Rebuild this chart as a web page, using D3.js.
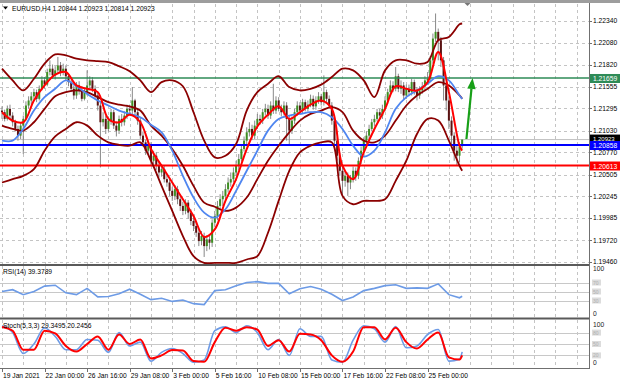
<!DOCTYPE html>
<html><head><meta charset="utf-8">
<script src="https://cdn.jsdelivr.net/npm/d3@7"></script>
<style>html,body{margin:0;padding:0;background:#fff;overflow:hidden}</style>
</head><body><svg id="c" width="620" height="382"></svg>
<script>
// ---------------- DATA ----------------
const symbolTitle = "EURUSD,H4  1.20844 1.20923 1.20814 1.20923";
const opens = [1.2127,1.2125,1.2117,1.2129,1.2121,1.2113,1.2105,1.2097,1.2109,1.2117,
1.2133,1.2139,1.2144,1.2149,1.2141,1.2153,1.2163,1.2158,1.2173,1.2177,
1.2169,1.2175,1.2181,1.2173,1.2177,1.2168,1.2161,1.2153,1.2145,1.2157,
1.2151,1.2141,1.2149,1.2157,1.2163,1.2153,1.2145,1.2133,1.2113,1.2117,
1.2105,1.2115,1.2125,1.2109,1.2103,1.2117,1.2113,1.2121,1.2129,1.2127,
1.2139,1.2125,1.2115,1.2097,1.2089,1.2079,1.2085,1.2067,1.2073,1.2061,
1.2053,1.2057,1.2045,1.2041,1.2031,1.2025,1.2033,1.2021,1.2013,1.2007,
1.2017,1.2005,1.1995,1.1989,1.1981,1.1971,1.1977,1.1965,1.1973,1.1969,
1.1993,1.2001,1.2013,1.2021,1.2025,1.2033,1.2041,1.2045,1.2053,1.2061,
1.2069,1.2081,1.2091,1.2101,1.2105,1.2097,1.2109,1.2117,1.2115,1.2125,
1.2129,1.2121,1.2133,1.2127,1.2139,1.2129,1.2125,1.2133,1.2117,1.2103,
1.2115,1.2125,1.2133,1.2127,1.2137,1.2129,1.2134,1.2141,1.2132,1.2139,
1.2144,1.2137,1.2149,1.2141,1.2133,1.2115,1.2091,1.2073,1.2055,1.2043,
1.2049,1.2041,1.2045,1.2055,1.2049,1.2067,1.2079,1.2091,1.2097,1.2105,
1.2113,1.2117,1.2125,1.2121,1.2129,1.2139,1.2149,1.2157,1.2153,1.2168,
1.2153,1.2157,1.2145,1.2153,1.2149,1.2161,1.2151,1.2145,1.2151,1.2156,
1.2163,1.2165,1.2187,1.2213,1.2221,1.2211,1.2187,1.2157,1.2139,1.2115,
1.2097,1.2079,1.2073,1.20844];
const highs = [1.2132,1.2128,1.2133,1.2134,1.2125,1.2116,1.2109,1.2113,1.2121,1.2138,
1.2144,1.2149,1.2153,1.2152,1.2157,1.2168,1.2167,1.2177,1.2187,1.2182,
1.2180,1.2191,1.2185,1.2183,1.2181,1.2171,1.2164,1.2157,1.2161,1.2162,
1.2156,1.2153,1.2175,1.2168,1.2167,1.2157,1.2149,1.2137,1.2125,1.2121,
1.2120,1.2129,1.2128,1.2114,1.2121,1.2123,1.2126,1.2134,1.2134,1.2155,
1.2141,1.2128,1.2119,1.2102,1.2092,1.2091,1.2089,1.2079,1.2077,1.2066,
1.2063,1.2061,1.2050,1.2045,1.2036,1.2038,1.2037,1.2026,1.2018,1.2021,
1.2020,1.2009,1.1999,1.1994,1.1985,1.1983,1.1981,1.1978,1.1979,1.1997,
1.2007,1.2019,1.2027,1.2031,1.2039,1.2047,1.2053,1.2059,1.2067,1.2075,
1.2086,1.2096,1.2107,1.2113,1.2110,1.2115,1.2123,1.2122,1.2129,1.2135,
1.2134,1.2138,1.2159,1.2144,1.2143,1.2134,1.2138,1.2137,1.2121,1.2120,
1.2129,1.2138,1.2137,1.2141,1.2140,1.2139,1.2146,1.2145,1.2144,1.2149,
1.2147,1.2169,1.2152,1.2145,1.2137,1.2119,1.2095,1.2077,1.2060,1.2054,
1.2053,1.2050,1.2060,1.2059,1.2071,1.2084,1.2095,1.2102,1.2110,1.2117,
1.2122,1.2129,1.2129,1.2134,1.2144,1.2153,1.2163,1.2162,1.2179,1.2171,
1.2163,1.2161,1.2158,1.2158,1.2165,1.2164,1.2155,1.2156,1.2161,1.2168,
1.2173,1.2192,1.2219,1.2243,1.2225,1.2215,1.2191,1.2161,1.2144,1.2120,
1.2101,1.2085,1.2089,1.20923];
const lows = [1.2117,1.2114,1.2115,1.2117,1.2108,1.2102,1.2091,1.2093,1.2075,1.2115,
1.2129,1.2134,1.2140,1.2137,1.2139,1.2151,1.2153,1.2156,1.2169,1.2165,
1.2164,1.2171,1.2168,1.2169,1.2163,1.2156,1.2149,1.2140,1.2141,1.2146,
1.2138,1.2139,1.2145,1.2153,1.2149,1.2141,1.2127,1.2059,1.2108,1.2099,
1.2102,1.2110,1.2105,1.2096,1.2099,1.2108,1.2109,1.2117,1.2122,1.2123,
1.2121,1.2110,1.2093,1.2084,1.2074,1.2075,1.2062,1.2063,1.2056,1.2047,
1.2048,1.2041,1.2036,1.2025,1.2019,1.2020,1.2015,1.2007,1.2002,1.2003,
1.1998,1.1990,1.1983,1.1976,1.1965,1.1966,1.1952,1.1959,1.1961,1.1964,
1.1988,1.1996,1.2008,1.2013,1.2020,1.2029,1.2036,1.2041,1.2049,1.2056,
1.2066,1.2078,1.2087,1.2096,1.2092,1.2093,1.2105,1.2110,1.2111,1.2121,
1.2117,1.2117,1.2123,1.2123,1.2126,1.2120,1.2121,1.2091,1.2085,1.2099,
1.2111,1.2121,1.2123,1.2123,1.2126,1.2126,1.2131,1.2128,1.2128,1.2135,
1.2133,1.2133,1.2137,1.2129,1.2110,1.2086,1.2067,1.2049,1.2023,1.2036,
1.2025,1.2033,1.2041,1.2043,1.2045,1.2063,1.2075,1.2086,1.2093,1.2102,
1.2108,1.2114,1.2116,1.2117,1.2126,1.2135,1.2145,1.2149,1.2150,1.2149,
1.2147,1.2140,1.2141,1.2144,1.2145,1.2146,1.2139,1.2141,1.2147,1.2151,
1.2158,1.2161,1.2183,1.2209,1.2187,1.2179,1.2139,1.2127,1.2105,1.2085,
1.2067,1.2061,1.2065,1.20814];
const closes = [1.2125,1.2117,1.2129,1.2121,1.2113,1.2105,1.2097,1.2109,1.2117,1.2133,
1.2139,1.2144,1.2149,1.2141,1.2153,1.2163,1.2158,1.2173,1.2177,1.2169,
1.2175,1.2181,1.2173,1.2177,1.2168,1.2161,1.2153,1.2145,1.2157,1.2151,
1.2141,1.2149,1.2157,1.2163,1.2153,1.2145,1.2133,1.2113,1.2117,1.2105,
1.2115,1.2125,1.2109,1.2103,1.2117,1.2113,1.2121,1.2129,1.2127,1.2139,
1.2125,1.2115,1.2097,1.2089,1.2079,1.2085,1.2067,1.2073,1.2061,1.2053,
1.2057,1.2045,1.2041,1.2031,1.2025,1.2033,1.2021,1.2013,1.2007,1.2017,
1.2005,1.1995,1.1989,1.1981,1.1971,1.1977,1.1965,1.1973,1.1969,1.1993,
1.2001,1.2013,1.2021,1.2025,1.2033,1.2041,1.2045,1.2053,1.2061,1.2069,
1.2081,1.2091,1.2101,1.2105,1.2097,1.2109,1.2117,1.2115,1.2125,1.2129,
1.2121,1.2133,1.2127,1.2139,1.2129,1.2125,1.2133,1.2117,1.2103,1.2115,
1.2125,1.2133,1.2127,1.2137,1.2129,1.2134,1.2141,1.2132,1.2139,1.2144,
1.2137,1.2149,1.2141,1.2133,1.2115,1.2091,1.2073,1.2055,1.2043,1.2049,
1.2041,1.2045,1.2055,1.2049,1.2067,1.2079,1.2091,1.2097,1.2105,1.2113,
1.2117,1.2125,1.2121,1.2129,1.2139,1.2149,1.2157,1.2153,1.2168,1.2153,
1.2157,1.2145,1.2153,1.2149,1.2161,1.2151,1.2145,1.2151,1.2156,1.2163,
1.2165,1.2187,1.2213,1.2221,1.2211,1.2187,1.2157,1.2139,1.2115,1.2097,
1.2079,1.2073,1.2084,1.20923];

// indicator samples (bar index of each sample)
const sampleBars = [0,4,8,12,16,20,24,28,32,36,40,44,48,52,56,60,64,68,72,76,80,84,88,92,96,100,104,108,112,116,120,124,128,132,136,140,144,148,152,156,160,164,168,172,173];
const bbUpper = [1.2177,1.2163,1.2151,1.2165,1.2183,1.2194,1.2193,1.2189,1.2187,1.2186,1.2185,1.2180,1.2174,1.2163,1.2149,1.2161,1.2163,1.2156,1.2125,1.2091,1.2071,1.2073,1.2087,1.2127,1.2149,1.2159,1.2168,1.2155,1.2151,1.2153,1.2158,1.2167,1.2177,1.2175,1.2163,1.2143,1.2175,1.2187,1.2187,1.2183,1.2185,1.2211,1.2215,1.2230,1.2231];
const bbMiddle = [1.2109,1.2105,1.2103,1.2113,1.2129,1.2144,1.2149,1.2151,1.2149,1.2143,1.2137,1.2134,1.2132,1.2127,1.2109,1.2097,1.2081,1.2061,1.2037,1.2017,1.2012,1.2007,1.2011,1.2023,1.2045,1.2067,1.2085,1.2101,1.2115,1.2123,1.2127,1.2131,1.2125,1.2103,1.2091,1.2089,1.2097,1.2115,1.2133,1.2145,1.2153,1.2161,1.2157,1.2145,1.2141];
const bbLower = [1.2041,1.2045,1.2049,1.2057,1.2079,1.2096,1.2105,1.2113,1.2109,1.2097,1.2089,1.2086,1.2085,1.2089,1.2067,1.2037,1.2007,1.1977,1.1953,1.1945,1.1945,1.1945,1.1945,1.1949,1.1953,1.1981,1.2019,1.2055,1.2077,1.2085,1.2089,1.2089,1.2025,1.2015,1.2019,1.2019,1.2021,1.2043,1.2067,1.2099,1.2117,1.2115,1.2091,1.2061,1.2055];
const maFast = [1.2125,1.2115,1.2113,1.2139,1.2157,1.2170,1.2173,1.2157,1.2153,1.2149,1.2117,1.2113,1.2122,1.2113,1.2081,1.2061,1.2041,1.2021,1.2001,1.1976,1.1985,1.2019,1.2045,1.2081,1.2108,1.2122,1.2132,1.2117,1.2125,1.2134,1.2139,1.2129,1.2061,1.2045,1.2077,1.2105,1.2129,1.2156,1.2153,1.2151,1.2161,1.2197,1.2149,1.2085,1.2079];
const maSlow = [1.2091,1.2091,1.2105,1.2127,1.2143,1.2153,1.2163,1.2156,1.2147,1.2139,1.2133,1.2127,1.2123,1.2119,1.2110,1.2101,1.2079,1.2049,1.2023,1.2005,1.1999,1.2009,1.2031,1.2055,1.2079,1.2103,1.2117,1.2121,1.2123,1.2125,1.2125,1.2119,1.2105,1.2085,1.2072,1.2079,1.2101,1.2129,1.2143,1.2151,1.2159,1.2168,1.2163,1.2145,1.2141];
const rsi = [50,54,43,50,62,64,47,43,57,38,39,45,55,44,32,35,28,31,23,21,52,54,63,70,72,68,68,45,56,61,55,44,30,38,52,57,63,65,57,58,57,67,43,36,39.38];
const stochK = [98,80,25,50,92,70,35,35,62,60,28,80,45,55,5,28,38,25,2,8,85,95,80,98,80,35,62,20,90,70,70,8,2,60,98,90,55,96,40,45,75,88,5,10,29.35];
const stochD = [95,85,35,35,85,78,45,30,50,70,35,75,50,62,12,20,34,33,5,3,55,93,85,94,88,45,60,30,77,75,60,20,3,30,94,94,62,93,55,38,62,80,15,9,20.25];

const priceTicks = [1.22340,1.22080,1.21820,1.21555,1.21295,1.21030,1.20770,1.20505,1.20245,1.19985,1.19720,1.19460];
const timeBars = [0,16,32,48,64,80,96,112,128,144,160];
const timeTexts = ["19 Jan 2021","22 Jan 00:00","26 Jan 16:00","29 Jan 08:00","3 Feb 00:00","5 Feb 16:00","10 Feb 08:00","15 Feb 00:00","17 Feb 16:00","22 Feb 08:00","25 Feb 00:00"];
const levelPrices = [1.21659, 1.20858, 1.20613];
const bidPrice = 1.20923;
const rsiLabel = "RSI(14) 39.3789";
const rsiLevels = [70,50,30];
const stochLabel = "Stoch(5,3,3) 29.3495 20.2456";
const stochLevels = [80,50,20];
const arrowBars = [174.6, 176.9];
const arrowPrices = [1.2093, 1.2166];

// ---------------- DRAW ----------------
const svg = d3.select('#c');
const FONT = "'Liberation Sans', Arial, sans-serif";
const PR = 589;
const x = d3.scaleLinear().domain([0,1]).range([2, 4.66]);
const y = d3.scaleLinear().domain([1.19460,1.22340]).range([262,21]);
const yR = d3.scaleLinear().domain([0,100]).range([314,269]);
const yS = d3.scaleLinear().domain([0,100]).range([363,325]);
const panels = {main:[4,264], rsi:[266,317], st:[320,368]};

svg.append('rect').attr('width',620).attr('height',382).attr('fill','#fff');
const defs = svg.append('defs');
Object.entries(panels).forEach(([k,[t,b]])=>{
  defs.append('clipPath').attr('id','clip-'+k).append('rect')
    .attr('x',0).attr('y',t).attr('width',PR).attr('height',b-t);
});

const gridC = '#c4c4c4';
const gridBars = d3.range(0, 221, 8);
Object.entries(panels).forEach(([k,[t,b]])=>{
  svg.append('g').selectAll('line').data(gridBars).join('line')
    .attr('x1',d=>Math.round(x(d))+0.5).attr('x2',d=>Math.round(x(d))+0.5)
    .attr('y1',t).attr('y2',b)
    .attr('stroke',gridC).attr('stroke-dasharray','3,3').attr('shape-rendering','crispEdges');
});
svg.append('g').selectAll('line').data(priceTicks).join('line')
  .attr('x1',0).attr('x2',PR)
  .attr('y1',d=>Math.round(y(d))+0.5).attr('y2',d=>Math.round(y(d))+0.5)
  .attr('stroke',gridC).attr('stroke-dasharray','3,3').attr('shape-rendering','crispEdges');
svg.append('g').selectAll('line').data(rsiLevels).join('line')
  .attr('x1',0).attr('x2',PR).attr('y1',d=>Math.round(yR(d))+0.5).attr('y2',d=>Math.round(yR(d))+0.5)
  .attr('stroke','#c8c8c8').attr('shape-rendering','crispEdges');
svg.append('g').selectAll('line').data(stochLevels).join('line')
  .attr('x1',0).attr('x2',PR).attr('y1',d=>Math.round(yS(d))+0.5).attr('y2',d=>Math.round(yS(d))+0.5)
  .attr('stroke','#c8c8c8').attr('shape-rendering','crispEdges');

// ---- main panel ----
const gm = svg.append('g').attr('clip-path','url(#clip-main)');
const idx = d3.range(closes.length);
gm.append('line').attr('x1',0).attr('x2',PR).attr('y1',y(bidPrice)).attr('y2',y(bidPrice))
  .attr('stroke','#c0c0c0').attr('stroke-width',1);
gm.append('g').selectAll('line').data(idx).join('line')
  .attr('x1',i=>x(i)).attr('x2',i=>x(i))
  .attr('y1',i=>y(highs[i])).attr('y2',i=>y(lows[i]))
  .attr('stroke','#7a7a7a').attr('stroke-width',0.9);
gm.append('g').selectAll('rect').data(idx).join('rect')
  .attr('x',i=>x(i)-1).attr('width',2)
  .attr('y',i=>Math.min(y(opens[i]),y(closes[i])))
  .attr('height',i=>Math.max(0.8,Math.abs(y(opens[i])-y(closes[i]))))
  .attr('fill',i=>closes[i]>=opens[i]?'#3d8f22':'#5a1212');

const levelColors = ['#2e8b57','#0000ff','#ff0000'];
const levelWidths = [1.6,2,1.8];
gm.append('g').selectAll('line').data(levelPrices).join('line')
  .attr('x1',0).attr('x2',PR).attr('y1',d=>y(d)).attr('y2',d=>y(d))
  .attr('stroke',(d,k)=>levelColors[k]).attr('stroke-width',(d,k)=>levelWidths[k]);

const lineMain = d3.line().x((d,k)=>x(sampleBars[k])).y(d=>y(d)).curve(d3.curveCatmullRom.alpha(0.5));
[[bbUpper,'#8b0000',1.8],[bbMiddle,'#8b0000',1.8],[bbLower,'#8b0000',1.8],
 [maSlow,'#4f86f0',1.8],[maFast,'#ff0000',2]].forEach(([arr,c,w])=>{
  gm.append('path').attr('d',lineMain(arr)).attr('fill','none').attr('stroke',c).attr('stroke-width',w);
});

// arrow
const ax1=x(arrowBars[0]), ay1=y(arrowPrices[0]), ax2=x(arrowBars[1]), ay2=y(arrowPrices[1]);
const ang=Math.atan2(ay2-ay1, ax2-ax1);
const hl=11, hw=4.2;
const bx=ax2-hl*Math.cos(ang), by=ay2-hl*Math.sin(ang);
gm.append('line').attr('x1',ax1).attr('y1',ay1).attr('x2',bx).attr('y2',by)
  .attr('stroke','#18a018').attr('stroke-width',2.2);
gm.append('path').attr('d',`M${ax2},${ay2}L${bx+hw*Math.sin(ang)},${by-hw*Math.cos(ang)}L${bx-hw*Math.sin(ang)},${by+hw*Math.cos(ang)}Z`)
  .attr('fill','#18a018');

// ---- RSI ----
const gr = svg.append('g').attr('clip-path','url(#clip-rsi)');
gr.append('path').attr('d',d3.line().x((d,k)=>x(sampleBars[k])).y(d=>yR(d)).curve(d3.curveLinear)(rsi))
  .attr('fill','none').attr('stroke','#6d9be6').attr('stroke-width',1.6);
// ---- Stoch ----
const gs = svg.append('g').attr('clip-path','url(#clip-st)');
const lineS = d3.line().x((d,k)=>x(sampleBars[k])).y(d=>yS(d)).curve(d3.curveMonotoneX);
gs.append('path').attr('d',lineS(stochK)).attr('fill','none').attr('stroke','#6d9be6').attr('stroke-width',1.6);
gs.append('path').attr('d',lineS(stochD)).attr('fill','none').attr('stroke','#ff0000').attr('stroke-width',2);

// ---- frames ----
svg.append('rect').attr('x',0).attr('y',0).attr('width',620).attr('height',3).attr('fill','#9d9d9d');
svg.append('rect').attr('x',0).attr('y',264).attr('width',PR+1).attr('height',2).attr('fill','#5a5a5a');
svg.append('rect').attr('x',0).attr('y',317.5).attr('width',PR+1).attr('height',2).attr('fill','#5a5a5a');
svg.append('line').attr('x1',0).attr('x2',PR+1).attr('y1',368.5).attr('y2',368.5).attr('stroke','#707070');
svg.append('line').attr('x1',PR+0.5).attr('x2',PR+0.5).attr('y1',3).attr('y2',369).attr('stroke','#707070');
svg.append('path').attr('d',`M${x(175)-3},3L${x(175)+3},3L${x(175)},6Z`).attr('fill','#777');

// ---- texts ----
const T = (s,xx,yy,opt={}) => svg.append('text').attr('x',xx).attr('y',yy).text(s)
  .attr('font-family',FONT).attr('font-size',opt.size||6.7).attr('fill',opt.fill||'#000')
  .attr('text-anchor',opt.anchor||'start');
svg.append('path').attr('d','M3,6.5L8,6.5L5.5,9.5Z').attr('fill','#000');
T(symbolTitle, 12, 10.5);
T(rsiLabel, 3, 274);
T(stochLabel, 3, 328);

svg.append('g').selectAll('line').data(priceTicks).join('line')
  .attr('x1',PR).attr('x2',PR+3).attr('y1',d=>Math.round(y(d))+0.5).attr('y2',d=>Math.round(y(d))+0.5).attr('stroke','#707070');
priceTicks.forEach(t=>T(t.toFixed(5), 593, y(t)+2.4));
T('100',593,yR(100)+2.4,{fill:'#222'}); T('0',593,yR(0)+2.4,{fill:'#222'});
rsiLevels.forEach(v=>{
  svg.append('rect').attr('x',592).attr('y',yR(v)-3).attr('width',9).attr('height',6).attr('fill','#dcdcdc');
  T(String(v),593,yR(v)+2,{size:5,fill:'#b0b0b0'});
});
T('100',593,yS(100)+2.4,{fill:'#222'}); T('0',593,yS(0)+2.4,{fill:'#222'});
stochLevels.forEach(v=>{
  svg.append('rect').attr('x',592).attr('y',yS(v)-3).attr('width',9).attr('height',6).attr('fill','#dcdcdc');
  T(String(v),593,yS(v)+2,{size:5,fill:'#b0b0b0'});
});

// price boxes (bid box partly hidden behind the blue one, as in the terminal)
svg.append('rect').attr('x',590).attr('y',y(bidPrice)-5).attr('width',30).attr('height',8).attr('fill','#000');
T(bidPrice.toFixed(5),593,y(bidPrice)+1.3,{fill:'#fff',size:6});
const boxColors = ['#2e8b57','#0000ff','#ff0000'];
levelPrices.forEach((p,k)=>{
  svg.append('rect').attr('x',590).attr('y',y(p)-4).attr('width',30).attr('height',9).attr('fill',boxColors[k]);
  T(p.toFixed(5),593,y(p)+3,{fill:'#fff'});
});

svg.append('g').selectAll('line').data(timeBars).join('line')
  .attr('x1',d=>Math.round(x(d))+0.5).attr('x2',d=>Math.round(x(d))+0.5).attr('y1',368).attr('y2',372).attr('stroke','#707070');
timeBars.forEach((b,k)=>T(timeTexts[k], x(b)+1, 377.5));
</script></body></html>
